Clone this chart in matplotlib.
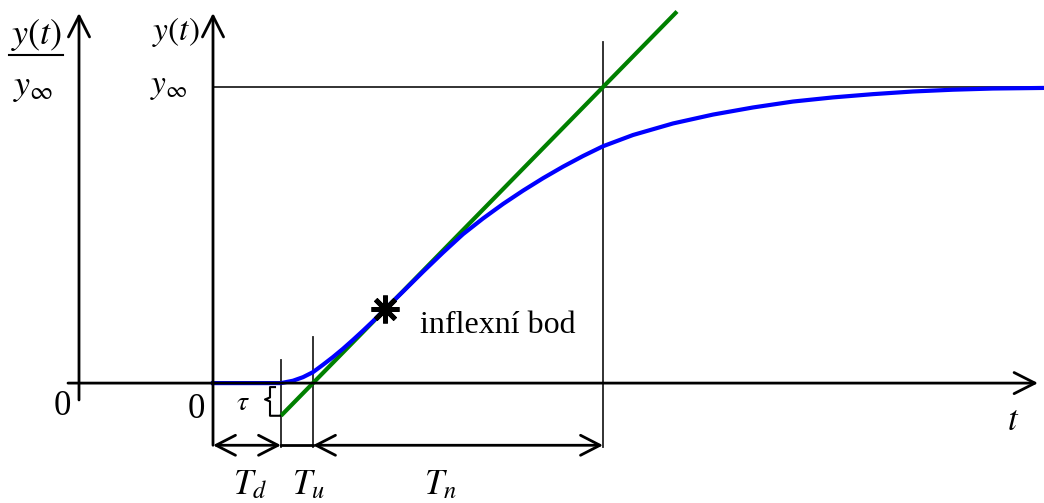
import numpy as np
import matplotlib.pyplot as plt

plt.rcParams['mathtext.fontset'] = 'stix'
plt.rcParams['font.family'] = ['Liberation Serif', 'DejaVu Serif']

# step response y(t)/y_inf
t_curve = [0.0, 1.7, 2.0, 2.25, 2.5, 2.75, 3.0, 3.25, 3.5, 3.75, 4.0, 4.3,
           4.75, 5.25, 5.75, 6.25, 6.75, 7.25, 7.75, 8.25, 8.75, 9.25, 9.75,
           10.5, 11.5, 12.5, 13.5, 14.5, 15.5, 16.5, 17.5, 18.5, 19.5, 20.8]
y_curve = [0.0, 0.0, 0.008, 0.02, 0.037, 0.062, 0.088, 0.116, 0.146, 0.177,
           0.209, 0.25, 0.309, 0.376, 0.441, 0.503, 0.556, 0.605, 0.650,
           0.692, 0.731, 0.767, 0.800, 0.838, 0.877, 0.907, 0.931, 0.951,
           0.965, 0.976, 0.985, 0.991, 0.995, 0.997]

Td = 1.7      # dead time
Tu = 0.8      # delay
Tn = 7.25     # rise time
t_infl = 4.3
y_infl = 0.25
t_tan_end = 11.6

# tangent through the inflection point
t_tan = [Td, t_tan_end]
y_tan = [(t - Td - Tu) / Tn for t in t_tan]
tau = -y_tan[0]

fig = plt.figure(figsize=(10.44, 5.03), dpi=100)
ax = fig.add_axes([0, 0, 1, 1])
ax.set_xlim(-5.325, 20.775)
ax.set_ylim(-0.405, 1.294)
ax.axis('off')

arrow = dict(arrowstyle='->,head_length=0.75,head_width=0.38', lw=2,
             color='black', shrinkA=0, shrinkB=0, mutation_scale=20)
arrow2 = dict(arrowstyle='<->,head_length=0.7,head_width=0.36', lw=2,
              color='black', shrinkA=0, shrinkB=0, mutation_scale=20)

# axes
ax.annotate('', xy=(20.625, 0), xytext=(-3.625, 0), arrowprops=arrow)
ax.annotate('', xy=(-3.35, 1.25), xytext=(-3.35, -0.057), arrowprops=arrow)
ax.annotate('', xy=(0, 1.25), xytext=(0, -0.21), arrowprops=arrow)

# helper lines
thin = dict(color='#222222', lw=1.3)
ax.plot([0, 20.775], [1, 1], **thin)
ax.plot([Td + Tu + Tn] * 2, [1.152, -0.216], **thin)
ax.plot([Td] * 2, [0.078, -0.216], **thin)
ax.plot([Td + Tu] * 2, [0.155, -0.216], **thin)

# curve and tangent
ax.plot(t_tan, y_tan, color='#008000', lw=3, solid_capstyle='butt')
ax.plot(t_curve, y_curve, color='#0000ff', lw=3)
ax.plot([t_infl], [y_infl], marker=(8, 2, 0), ms=20, mew=3.5, color='black')

# tau bracket
px = 1 / 40.0
py = 1 / 296.0
ax.plot([Td - 6 * px, Td - 11 * px, Td - 11 * px, Td - 16 * px, Td - 11 * px,
         Td - 11 * px, Td - 1 * px],
        [-4 * py, -4 * py, -tau / 2 + 2 * py, -tau / 2, -tau / 2 - 2 * py,
         -tau, -tau], color='black', lw=1.5)

# dimension arrows
ya = -0.21
ax.annotate('', xy=(Td, ya), xytext=(0, ya), arrowprops=arrow2)
ax.plot([Td, Td + Tu], [ya, ya], color='black', lw=2)
ax.annotate('', xy=(Td + Tu + Tn, ya), xytext=(Td + Tu, ya), arrowprops=arrow2)

# texts
fs = 25
ax.text(-3.775, -0.078, '0', fontsize=fs, ha='center', va='center')
ax.text(-0.425, -0.088, '0', fontsize=fs, ha='center', va='center')
ax.text(20.0, -0.13, '$t$', fontsize=fs, ha='center', va='center')
ax.text(0.75, -0.068, r'$\tau$', fontsize=20, ha='center', va='center')
ax.text(5.175, 0.169, 'inflexní bod', fontsize=23, ha='left', va='baseline')
ax.text(0.925, -0.345, '$T_d$', fontsize=fs, ha='center', va='center')
ax.text(2.375, -0.345, '$T_u$', fontsize=fs, ha='center', va='center')
ax.text(5.675, -0.345, '$T_n$', fontsize=fs, ha='center', va='center')

ax.text(-4.4, 1.175, '$y(t)$', fontsize=26, ha='center', va='center')
ax.plot([-5.1, -3.75], [1.108, 1.108], color='black', lw=1.5)
ax.text(-4.5, 1.0, r'$y_\infty$', fontsize=26, ha='center', va='center')
ax.text(-0.925, 1.185, '$y(t)$', fontsize=24, ha='center', va='center')
ax.text(-1.1, 1.0, r'$y_\infty$', fontsize=24, ha='center', va='center')

fig.savefig('out.png', dpi=100)
